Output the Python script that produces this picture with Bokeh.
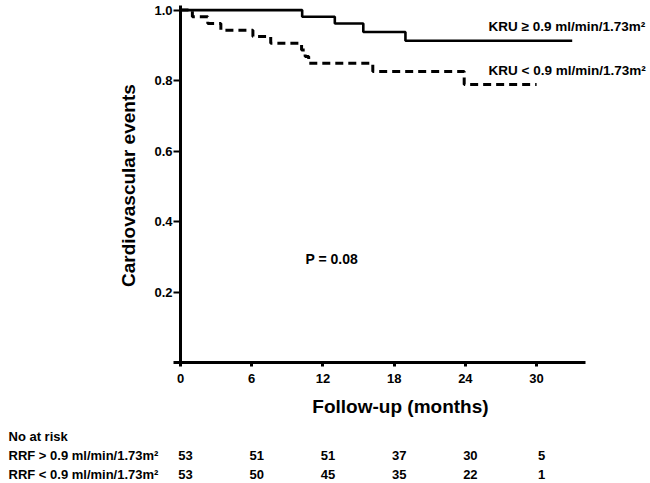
import math
from bokeh.plotting import figure
from bokeh.models import Label, LabelSet, ColumnDataSource, FixedTicker
from bokeh.core.properties import value
from bokeh.embed import file_html
from bokeh.resources import INLINE

# ---- data ----
high_times = [0, 10.25, 13.0, 15.4, 18.95, 33.0]
high_surv = [1.0, 0.981, 0.962, 0.938, 0.913, 0.913]

low_times = [0, 1.0, 2.3, 3.4, 6.1, 7.6, 10.2, 10.5, 10.8, 16.2, 23.9, 30.0]
low_surv = [1.0, 0.981, 0.962, 0.943, 0.925, 0.906, 0.887, 0.868, 0.849, 0.826, 0.789, 0.789]

x_ticks = [0, 6, 12, 18, 24, 30]
y_ticks = [0.2, 0.4, 0.6, 0.8, 1.0]
y_tick_labels = ["0.2", "0.4", "0.6", "0.8", "1.0"]

at_risk_times = [0, 6, 12, 18, 24, 30]
at_risk_high = [53, 51, 51, 37, 30, 5]
at_risk_low = [53, 50, 45, 35, 22, 1]

label_high = "KRU \u2265 0.9 ml/min/1.73m\u00b2"
label_low = "KRU < 0.9 ml/min/1.73m\u00b2"
row_high = "RRF > 0.9 ml/min/1.73m\u00b2"
row_low = "RRF < 0.9 ml/min/1.73m\u00b2"
p_text = "P = 0.08"

FONT = "Liberation Sans"

p = figure(width=650, height=483, output_backend="svg", toolbar_location=None,
           x_range=(-15.165, 39.596), y_range=(-0.3434, 1.0272),
           min_border=0)
p.outline_line_color = None
p.grid.visible = False
p.background_fill_color = "white"

p.step(high_times, high_surv, mode="after", line_color="black", line_width=2.6)
p.step(low_times, low_surv, mode="after", line_color="black", line_width=3,
       line_dash="8 5")

# axes
xa = p.xaxis[0]
xa.fixed_location = 0
xa.bounds = (-0.59, 34.1)
xa.ticker = FixedTicker(ticks=x_ticks)
xa.axis_line_width = 3
xa.major_tick_line_width = 3
xa.major_tick_out = 4
xa.major_tick_in = 0
xa.minor_tick_line_color = None
xa.major_label_text_font = FONT
xa.major_label_text_font_style = "bold"
xa.major_label_text_font_size = "13px"
xa.major_label_text_color = "black"
xa.major_label_standoff = 8

ya = p.yaxis[0]
ya.fixed_location = 0
ya.bounds = (0, 1.012)
ya.ticker = FixedTicker(ticks=y_ticks)
ya.major_label_overrides = {t: l for t, l in zip(y_ticks, y_tick_labels)}
ya.axis_line_width = 3
ya.major_tick_line_width = 2
ya.major_tick_out = 7
ya.major_tick_in = 0
ya.minor_tick_line_color = None
ya.major_label_text_font = FONT
ya.major_label_text_font_style = "bold"
ya.major_label_text_font_size = "13px"
ya.major_label_text_color = "black"
ya.major_label_standoff = 1


def lab(x, y, text, size, align="left", angle=0):
    p.add_layout(Label(x=x, y=y, text=text, text_font=FONT,
                       text_font_style="bold", text_font_size=size,
                       text_align=align, text_baseline="middle",
                       angle=angle, text_color="black"))


lab(25.95, 0.9535, label_high, "13.5px")
lab(25.95, 0.8286, label_low, "13.5px")
lab(10.53, 0.295, p_text, "14px")
lab(-4.38, 0.502, "Cardiovascular events", "19px", align="center", angle=math.pi / 2)
lab(18.53, -0.125, "Follow-up (months)", "19px", align="center")
lab(-14.49, -0.210, "No at risk", "13px")
lab(-14.49, -0.264, row_high, "13px")
lab(-14.49, -0.318, row_low, "13px")

src = ColumnDataSource(dict(
    t=at_risk_times + at_risk_times,
    yy=[-0.264] * len(at_risk_times) + [-0.318] * len(at_risk_times),
    n=[str(v) for v in at_risk_high] + [str(v) for v in at_risk_low],
))
p.add_layout(LabelSet(x="t", y="yy", text="n", source=src, x_offset=5,
                      text_font=value(FONT), text_font_style="bold",
                      text_font_size="13px", text_align="center",
                      text_baseline="middle", text_color="black"))

open("out.html", "w").write(file_html(p, INLINE))
